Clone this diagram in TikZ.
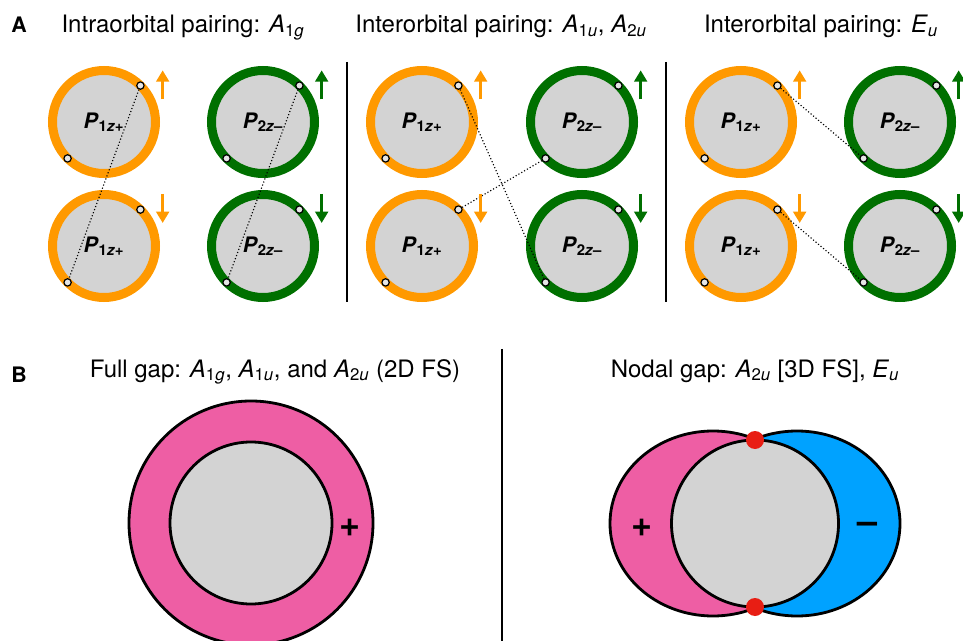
\documentclass[tikz,border=0pt]{standalone}
\usepackage{fontspec}
\setmainfont{TeX Gyre Heros}
\usetikzlibrary{arrows.meta}
\definecolor{orb1}{RGB}{255,153,0}
\definecolor{orb2}{RGB}{0,112,0}
\definecolor{fsgray}{RGB}{211,211,211}
\definecolor{gappos}{RGB}{238,94,164}
\definecolor{gapneg}{RGB}{0,162,255}
\definecolor{nodered}{RGB}{232,30,20}
\newcommand{\irrep}[2]{\textit{#1}\textsubscript{#2}}
\newcommand{\Pone}{\textit{P}\textsubscript{1\textit{z}+}}
\newcommand{\Ptwo}{\textit{P}\textsubscript{2\textit{z}–}}
\tikzset{ring/.style={circle, draw=#1, fill=fsgray, line width=6.75pt, minimum size=77.25pt, inner sep=0pt, outer sep=0pt, font=\fontsize{16}{19}\selectfont\bfseries},site/.style={circle, draw=black, fill=black!10, line width=0.9pt, minimum size=5.5pt, inner sep=0pt},pair/.style={line width=0.85pt, dash pattern=on 0.85pt off 1.6pt},spin/.style={draw=#1, line width=2.1pt, -{Triangle[width=9.5pt,length=8.5pt]}},title/.style={anchor=base, font=\fontsize{18}{21}\selectfont},panel/.style={anchor=base, font=\fontsize{16}{19}\selectfont\bfseries}}

\begin{document}
\begin{tikzpicture}[x=0.75pt, y=-0.75pt,
   sep/.style={line width=0.8pt},
   gap/.style={draw, line width=2.1pt},
   nodept/.style={circle, fill=nodered, minimum size=13.5pt, inner sep=0pt},
   sign/.style={font=\fontsize{27}{27}\selectfont\bfseries}]
  \useasboundingbox (0,0) rectangle (963,641);
  \clip (0,0) rectangle (963,641);

  % A: titles
  \node[panel] (lblA) at (19,33) {A};
  \node[title] (t1) at (183,33) {Intraorbital pairing: \irrep{A}{1\textit{g}}};
  \node[title] (t2) at (501,33) {Interorbital pairing: \irrep{A}{1\textit{u}}, \irrep{A}{2\textit{u}}};
  \node[title] (t3) at (821,33) {Interorbital pairing: \irrep{E}{\textit{u}}};
  \draw[sep] (347,62) -- (347,302); \draw[sep] (666,62) -- (666,302);

  % A1 intraorbital
  \node[ring=orb1] (o1u) at (104,122) {\Pone};
  \node[ring=orb2] (g1u) at (263,122) {\Ptwo};
  \node[ring=orb1] (o1d) at (104,246) {\Pone};
  \node[ring=orb2] (g1d) at (263,246) {\Ptwo};
  \node[site] (o1u1) at (o1u.45) {}; \node[site] (o1u2) at (o1u.225) {};
  \node[site] (g1u1) at (g1u.45) {}; \node[site] (g1u2) at (g1u.225) {};
  \node[site] (o1d1) at (o1d.45) {}; \node[site] (o1d2) at (o1d.225) {};
  \node[site] (g1d1) at (g1d.45) {}; \node[site] (g1d2) at (g1d.225) {};
  \draw[pair] (o1u1) -- (o1d2); \draw[pair] (g1u1) -- (g1d2);
  \draw[spin=orb1] ([shift={(44pt,17pt)}]o1u.center) -- ++(0,-29);
  \draw[spin=orb2] ([shift={(44pt,17pt)}]g1u.center) -- ++(0,-29);
  \draw[spin=orb1] ([shift={(44pt,39pt)}]o1d.center) -- ++(0,29);
  \draw[spin=orb2] ([shift={(44pt,39pt)}]g1d.center) -- ++(0,29);

  % A2 interorbital A1u, A2u
  \node[ring=orb1] (o2u) at (422,122) {\Pone};
  \node[ring=orb2] (g2u) at (582,122) {\Ptwo};
  \node[ring=orb1] (o2d) at (422,246) {\Pone};
  \node[ring=orb2] (g2d) at (582,246) {\Ptwo};
  \node[site] (o2u1) at (o2u.45) {}; \node[site] (o2u2) at (o2u.225) {};
  \node[site] (g2u1) at (g2u.45) {}; \node[site] (g2u2) at (g2u.225) {};
  \node[site] (o2d1) at (o2d.45) {}; \node[site] (o2d2) at (o2d.225) {};
  \node[site] (g2d1) at (g2d.45) {}; \node[site] (g2d2) at (g2d.225) {};
  \draw[pair] (o2u1) -- (g2d2); \draw[pair] (o2d1) -- (g2u2);
  \draw[spin=orb1] ([shift={(44pt,17pt)}]o2u.center) -- ++(0,-29);
  \draw[spin=orb2] ([shift={(44pt,17pt)}]g2u.center) -- ++(0,-29);
  \draw[spin=orb1] ([shift={(44pt,39pt)}]o2d.center) -- ++(0,29);
  \draw[spin=orb2] ([shift={(44pt,39pt)}]g2d.center) -- ++(0,29);

  % A3 interorbital Eu
  \node[ring=orb1] (o3u) at (741,122) {\Pone};
  \node[ring=orb2] (g3u) at (900,122) {\Ptwo};
  \node[ring=orb1] (o3d) at (741,246) {\Pone};
  \node[ring=orb2] (g3d) at (900,246) {\Ptwo};
  \node[site] (o3u1) at (o3u.45) {}; \node[site] (o3u2) at (o3u.225) {};
  \node[site] (g3u1) at (g3u.45) {}; \node[site] (g3u2) at (g3u.225) {};
  \node[site] (o3d1) at (o3d.45) {}; \node[site] (o3d2) at (o3d.225) {};
  \node[site] (g3d1) at (g3d.45) {}; \node[site] (g3d2) at (g3d.225) {};
  \draw[pair] (o3u1) -- (g3u2); \draw[pair] (o3d1) -- (g3d2);
  \draw[spin=orb1] ([shift={(44pt,17pt)}]o3u.center) -- ++(0,-29);
  \draw[spin=orb2] ([shift={(44pt,17pt)}]g3u.center) -- ++(0,-29);
  \draw[spin=orb1] ([shift={(44pt,39pt)}]o3d.center) -- ++(0,29);
  \draw[spin=orb2] ([shift={(44pt,39pt)}]g3d.center) -- ++(0,29);

  % B: full gap
  \node[panel] (lblB) at (19,382) {B};
  \node[title] (t4) at (275,377) {Full gap: \irrep{A}{1\textit{g}}, \irrep{A}{1\textit{u}}, and \irrep{A}{2\textit{u}} (2D FS)};
  \draw[sep] (502,349) -- (502,641);
  \draw[gap, fill=gappos] (251,523) circle (122);
  \draw[gap, fill=fsgray] (251,523) circle (81);
  \node[sign] (plus1) at (350,528) {+};

  % B: nodal gap
  \node[title] (t5) at (755,377) {Nodal gap: \irrep{A}{2\textit{u}} [3D FS], \irrep{E}{\textit{u}}};
  \draw[gap, fill=gappos] (713,523.5) ellipse [x radius=103, y radius=92.5];
  \draw[gap, fill=gapneg] (797,523.5) ellipse [x radius=103, y radius=92.5];
  \draw[gap, fill=fsgray] (755,523.5) circle (83.5);
  \node[nodept] (n1) at (755,440) {}; \node[nodept] (n2) at (755,607) {};
  \node[sign] (plus2) at (642,528) {+};
  \node[sign] (minus2) at (867,528) {–};
\end{tikzpicture}
\end{document}
